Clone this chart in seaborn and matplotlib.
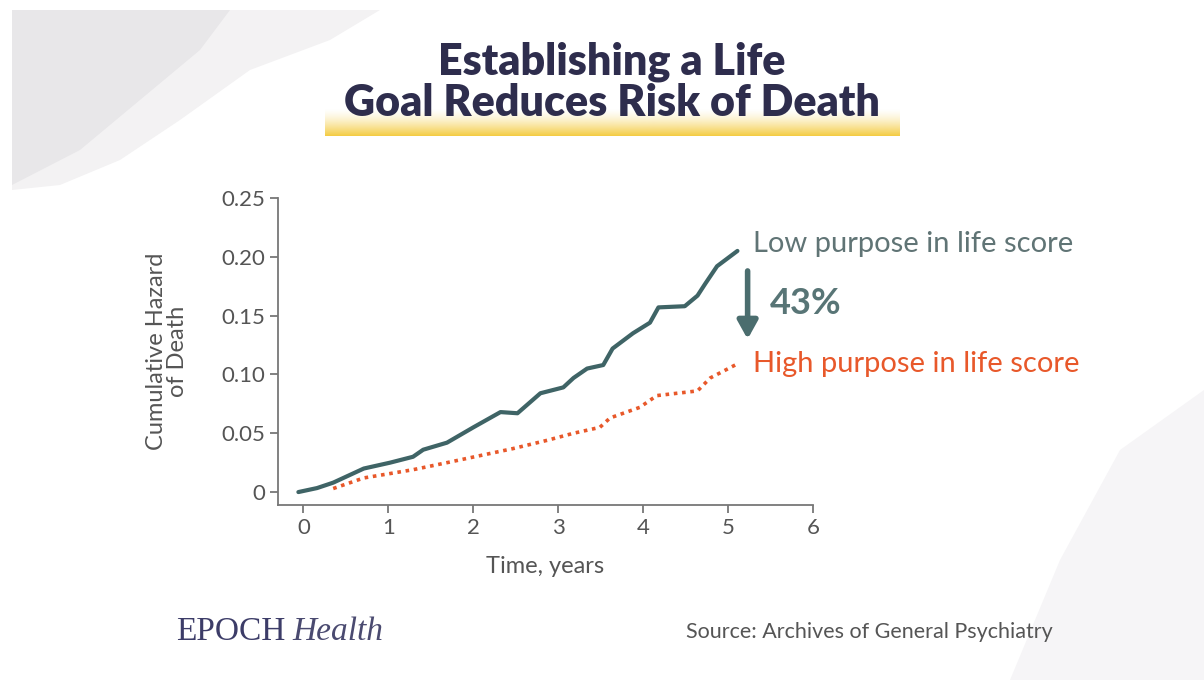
import matplotlib
matplotlib.use("Agg")
import matplotlib.pyplot as plt
import seaborn as sns
import numpy as np
import pandas as pd
from matplotlib.patches import Polygon

# cumulative hazard curves
low_years = [-0.06, 0.16, 0.35, 0.71, 1.02, 1.29, 1.41, 1.69, 2.0, 2.32, 2.52, 2.79, 3.06, 3.18,
             3.34, 3.53, 3.64, 3.88, 4.08, 4.18, 4.49, 4.64, 4.73, 4.87, 5.11]
low_hazard = [0.0, 0.0034, 0.008, 0.020, 0.025, 0.030, 0.036, 0.042, 0.055, 0.068, 0.067, 0.084,
              0.089, 0.097, 0.105, 0.108, 0.122, 0.135, 0.144, 0.157, 0.158, 0.167, 0.177, 0.192, 0.205]
high_years = [0.35, 0.71, 1.29, 1.69, 2.08, 2.47, 2.87, 3.18, 3.49, 3.61, 3.96, 4.16, 4.64, 4.79, 5.11]
high_hazard = [0.003, 0.012, 0.019, 0.025, 0.031, 0.037, 0.044, 0.050, 0.055, 0.063, 0.072,
               0.082, 0.086, 0.097, 0.109]

x_ticks = [0, 1, 2, 3, 4, 5, 6]
y_ticks = [0, 0.05, 0.10, 0.15, 0.20, 0.25]
y_tick_labels = ["0", "0.05", "0.10", "0.15", "0.20", "0.25"]

LOW_COLOR = "#3f6466"
HIGH_COLOR = "#e8582a"
GREY = "#555555"

sns.set_theme(style="white")
plt.rcParams['font.family'] = ['Lato', 'DejaVu Sans']

fig = plt.figure(figsize=(12.04, 6.8), dpi=100)

# background blobs
bg = fig.add_axes([0, 0, 1, 1], zorder=-5)
bg.set_xlim(0, 1204)
bg.set_ylim(680, 0)
bg.axis("off")
bg.add_patch(Polygon([(12, 10), (380, 10), (330, 40), (250, 70), (180, 120), (120, 160),
                      (60, 185), (12, 190)], closed=True, color="#f3f2f3", lw=0))
bg.add_patch(Polygon([(12, 10), (230, 10), (200, 50), (140, 100), (80, 150), (12, 185)],
                     closed=True, color="#e8e7e9", lw=0))
bg.add_patch(Polygon([(1204, 390), (1204, 680), (1010, 680), (1060, 560), (1120, 450)],
                     closed=True, color="#f6f5f7", lw=0))

# yellow highlight under the title
hl = fig.add_axes([325 / 1204, 1 - 136 / 680, 575 / 1204, 28 / 680], zorder=-1)
grad = np.linspace(0, 1, 50).reshape(-1, 1)
hl.imshow(np.dstack([np.full_like(grad, 0.96), np.full_like(grad, 0.80), np.full_like(grad, 0.26),
                     grad ** 1.5]), aspect="auto", extent=[0, 1, 0, 1], origin="upper")
hl.axis("off")

ax = fig.add_axes([278 / 1204, 1 - 505 / 680, 535 / 1204, 307 / 680])
low_df = pd.DataFrame({"Time": low_years, "Hazard": low_hazard})
high_df = pd.DataFrame({"Time": high_years, "Hazard": high_hazard})
sns.lineplot(data=low_df, x="Time", y="Hazard", color=LOW_COLOR, lw=3, ax=ax)
sns.lineplot(data=high_df, x="Time", y="Hazard", color=HIGH_COLOR, lw=2.6, ax=ax,
             linestyle=(0, (1, 1.3)))

ax.set_xlim(-0.3, 6.0)
ax.set_ylim(-0.011, 0.25)
ax.set_xticks(x_ticks)
ax.set_yticks(y_ticks)
ax.set_yticklabels(y_tick_labels)
sns.despine(ax=ax)
for s in ["left", "bottom"]:
    ax.spines[s].set_color("#777777")
    ax.spines[s].set_linewidth(1.3)
ax.tick_params(axis="both", colors="#777777", labelcolor=GREY, labelsize=16,
               direction="out", length=6, width=1.3, left=True, bottom=True)
ax.set_xlabel("Time, years", fontsize=17, color=GREY, labelpad=13)
ax.set_ylabel("Cumulative Hazard\nof Death", fontsize=17, color=GREY, labelpad=24,
              linespacing=1.0)
ax.patch.set_alpha(0)

# labels and arrow
ax.annotate("", xy=(5.23, 0.130), xytext=(5.23, 0.188),
            arrowprops=dict(arrowstyle="-|>,head_width=0.5,head_length=0.9", lw=4,
                            color="#4b6d6e", shrinkA=0, shrinkB=0))
fig.text(753 / 1204, 1 - 244 / 680, "Low purpose in life score", fontsize=21,
         color="#607475", va="center")
fig.text(770 / 1204, 1 - 303 / 680, "43%", fontsize=26, fontweight="bold",
         color="#587576", va="center")
fig.text(753 / 1204, 1 - 364 / 680, "High purpose in life score", fontsize=21,
         color=HIGH_COLOR, va="center")

# title
fig.text(612 / 1204, 1 - 62 / 680, "Establishing a Life", fontsize=31, fontweight="heavy",
         color="#2e2d4d", ha="center", va="center")
fig.text(612 / 1204, 1 - 103 / 680, "Goal Reduces Risk of Death", fontsize=31,
         fontweight="heavy", color="#2e2d4d", ha="center", va="center")

# footer
fig.text(176 / 1204, 1 - 632 / 680, "EPOCH", fontsize=24, family="Liberation Serif",
         color="#3c3c68", va="center")
fig.text(292 / 1204, 1 - 632 / 680, "Health", fontsize=24, family="Liberation Serif",
         style="italic", color="#4a4a70", va="center")
fig.text(686 / 1204, 1 - 632 / 680, "Source: Archives of General Psychiatry", fontsize=15.5,
         color=GREY, va="center")

fig.savefig("out.png", dpi=100)
